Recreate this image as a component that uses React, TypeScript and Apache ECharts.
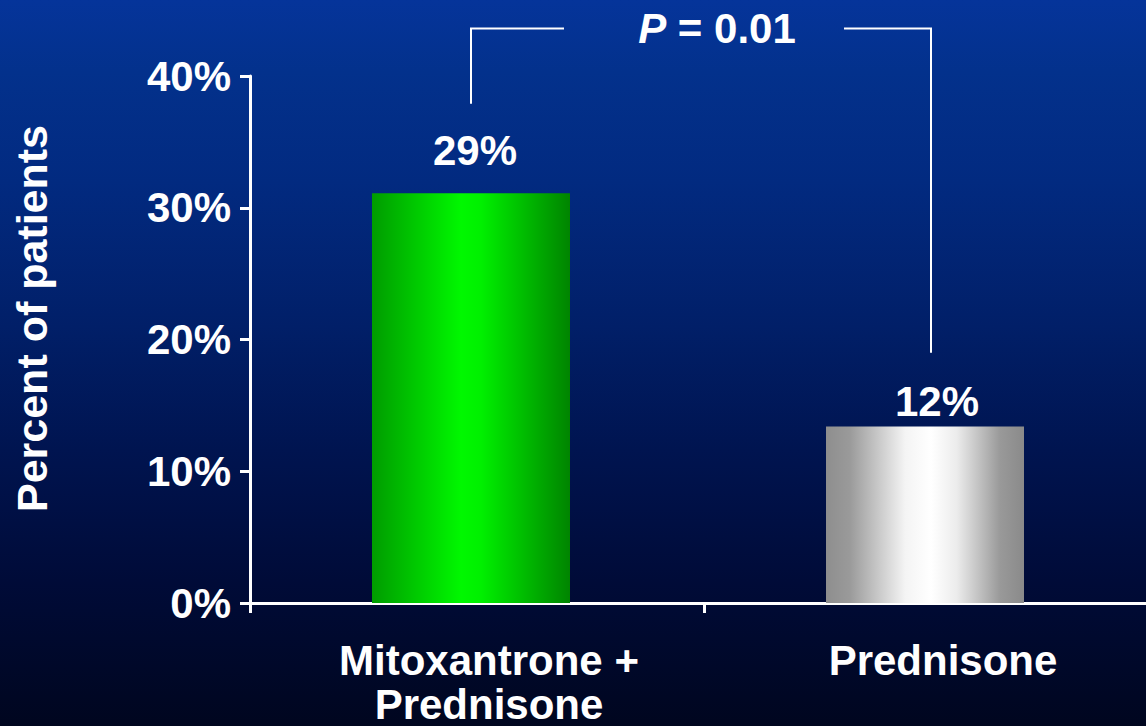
import React, { useEffect, useRef } from "react";
import * as echarts from "echarts";

const categories = ["Mitoxantrone +\nPrednisone", "Prednisone"];
const barHeights = [31.1, 13.4];
const barLabels = ["29%", "12%"];
const labelGaps = [22, 4];
const labelShifts = [4, 12];
const spacer = [null, null];
const yMin = 0;
const yMax = 40;
const yStep = 10;
const pValueLabel = "P";
const pValueRest = " = 0.01";
const bracketLegs = [37.9, 19.0];
const bracketTop = 43.6;

export default function App() {
  const ref = useRef<HTMLDivElement>(null);
  useEffect(() => {
    const chart = echarts.init(ref.current!, null, { renderer: "svg" });
    const font = "'Liberation Sans', Arial, Helvetica, sans-serif";
    const white = "#ffffff";
    const greenGrad = new echarts.graphic.LinearGradient(0, 0, 1, 0, [
      { offset: 0, color: "#009c00" },
      { offset: 0.45, color: "#00f800" },
      { offset: 0.55, color: "#00f000" },
      { offset: 1, color: "#008400" },
    ]);
    const grayGrad = new echarts.graphic.LinearGradient(0, 0, 1, 0, [
      { offset: 0, color: "#8e8e8e" },
      { offset: 0.12, color: "#9a9a9a" },
      { offset: 0.4, color: "#f4f4f4" },
      { offset: 0.53, color: "#ffffff" },
      { offset: 0.66, color: "#ececec" },
      { offset: 0.88, color: "#999999" },
      { offset: 1, color: "#8a8a8a" },
    ]);
    const grads = [greenGrad, grayGrad];
    chart.setOption({
      animation: false,
      backgroundColor: "transparent",
      grid: { left: 250, top: 76, bottom: 123, right: 12, containLabel: false },
      xAxis: {
        type: "category",
        data: categories,
        axisLine: { show: true, lineStyle: { color: white, width: 3 } },
        axisTick: { show: true, length: 10, lineStyle: { color: white, width: 3 } },
        axisLabel: {
          color: white,
          fontSize: 42,
          fontWeight: "bold",
          fontFamily: font,
          lineHeight: 44,
          margin: 35,
          padding: [0, 0, 0, 24],
        },
      },
      yAxis: {
        type: "value",
        min: yMin,
        max: yMax,
        interval: yStep,
        axisLine: { show: true, lineStyle: { color: white, width: 3 } },
        axisTick: { show: true, length: 10, lineStyle: { color: white, width: 3 } },
        splitLine: { show: false },
        axisLabel: {
          formatter: "{value}%",
          color: white,
          fontSize: 42,
          fontWeight: "bold",
          fontFamily: font,
          margin: 19,
          padding: [10, 0, 0, 0],
        },
      },
      series: [
        {
          type: "bar",
          barWidth: 198,
          barGap: "0%",
          data: barHeights.map((v, i) => ({
            value: v,
            itemStyle: { color: grads[i] },
            label: { distance: labelGaps[i], offset: [labelShifts[i], 0] },
          })),
          label: {
            show: true,
            position: "top",
            formatter: (p: any) => barLabels[p.dataIndex],
            color: white,
            fontSize: 42,
            fontWeight: "bold",
            fontFamily: font,
          },
        },
        {
          type: "bar",
          barWidth: 12,
          barGap: "0%",
          silent: true,
          data: spacer,
        },
      ],
    });

    const px = (c: number, v: number) =>
      chart.convertToPixel({ gridIndex: 0 }, [c, v]) as number[];
    const l0 = px(0, bracketLegs[0]);
    const lt = px(0, bracketTop);
    const r0 = px(1, bracketLegs[1]);
    const rt = px(1, bracketTop);
    const mid = (lt[0] + rt[0]) / 2;
    const half = 140;
    const base = px(0, 0);

    chart.setOption({
      graphic: [
        {
          type: "polyline",
          shape: { points: [[l0[0] - 6, l0[1]], [lt[0] - 6, lt[1]], [mid - half, lt[1]]] },
          style: { stroke: white, lineWidth: 2, fill: null },
        },
        {
          type: "polyline",
          shape: { points: [[mid + half, rt[1]], [rt[0], rt[1]], [r0[0], r0[1]]] },
          style: { stroke: white, lineWidth: 2, fill: null },
        },
        {
          type: "text",
          x: mid + 13,
          y: lt[1],
          style: {
            text: `{i|${pValueLabel}}{n|${pValueRest}}`,
            align: "center",
            verticalAlign: "middle",
            rich: {
              i: { fontStyle: "italic", fontWeight: "bold", fontSize: 42, fill: white, fontFamily: font },
              n: { fontWeight: "bold", fontSize: 42, fill: white, fontFamily: font },
            },
          },
        },
        {
          type: "text",
          x: 32,
          y: (base[1] + px(0, yMax)[1]) / 2 - 21,
          rotation: Math.PI / 2,
          style: {
            text: "Percent of patients",
            align: "center",
            verticalAlign: "middle",
            fontSize: 43,
            fontWeight: "bold",
            fontFamily: font,
            fill: white,
          },
        },
      ],
    });
    return () => chart.dispose();
  }, []);
  return (
    <div
      style={{
        position: "fixed",
        left: 0,
        top: 0,
        width: 1146,
        height: 726,
        overflow: "hidden",
        background:
          "linear-gradient(to bottom, #05349a 0%, #03318c 10%, #022a80 25%, #011f68 45%, #001450 62%, #000b38 80%, #00061f 100%)",
      }}
    >
      <div ref={ref} style={{ width: 1170, height: 726 }} />
    </div>
  );
}
